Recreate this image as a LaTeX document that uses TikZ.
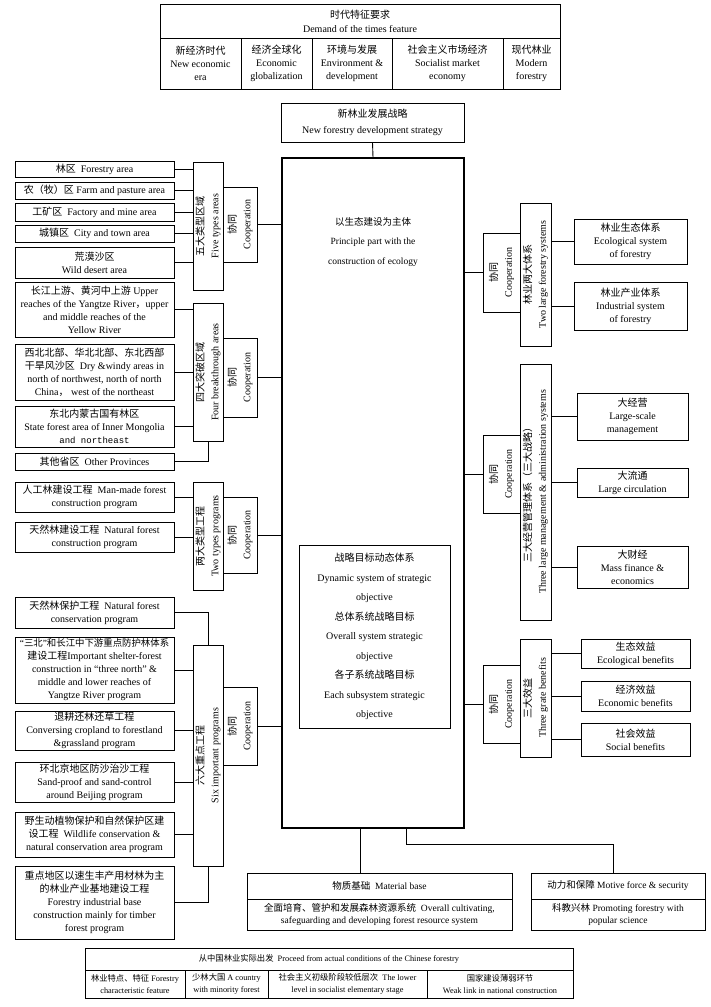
\documentclass[tikz,border=0pt]{standalone}
\usepackage{fontspec}
\setmainfont{Liberation Serif}
\newfontfamily\cjk{Noto Sans CJK SC}
\newfontfamily\monofam{Liberation Mono}
\newcommand\zh[1]{{\cjk #1}}
\usetikzlibrary{fit}
% box frame + centred text node: [text style]{name}{x1}{y1}{x2}{y2}{text}
\newcommand\bx[7][]{%
  \node[frame, fit={(#3,#4)(#5,#6)}] (#2) {};
  \node[txt,#1] (#2-t) at (#2.center) {#7};}
\begin{document}
\begin{tikzpicture}[x=1pt,y=-1pt,
  frame/.style={draw, line width=0.9pt, inner sep=0pt},
  txt/.style={align=center, inner sep=0pt, font=\fontsize{10}{13}\selectfont},
  vtxt/.style={rotate=90, font=\fontsize{10}{14.5}\selectfont},
  small/.style={font=\fontsize{8.3}{12.5}\selectfont},
  mid/.style={font=\fontsize{9.5}{12.5}\selectfont},
  link/.style={line width=0.9pt}]
\useasboundingbox (0,0) rectangle (710,1007);

% ---------- top table
\bx[font=\fontsize{10}{14}\selectfont]{top}{160}{4}{560}{38}{\zh{时代特征要求}\\Demand of the times feature}
\bx{t1}{160}{38}{241}{89}{\zh{新经济时代}\\New economic\\era}
\bx{t2}{241}{38}{312}{89}{\zh{经济全球化}\\Economic\\globalization}
\bx{t3}{312}{38}{392}{89}{\zh{环境与发展}\\Environment \&\\development}
\bx{t4}{392}{38}{503}{89}{\zh{社会主义市场经济}\\Socialist market\\economy}
\bx{t5}{503}{38}{560}{89}{\zh{现代林业}\\Modern\\forestry}

% ---------- strategy
\bx[font=\fontsize{10}{16}\selectfont]{strat}{281}{103}{464}{142}{\zh{新林业发展战略}\\New forestry development strategy}

% ---------- main box
\node[draw, line width=1.6pt, inner sep=0pt, fit={(282,158)(464,828)}] (main) {};
\node[txt, font=\fontsize{9.5}{19.5}\selectfont] (mtxt) at (373,242) {\zh{以生态建设为主体}\\Principle part with the\\construction of ecology};
\node[draw, line width=0.8pt, inner sep=0pt, fit={(299,545)(450,728)}] (inner) {};
\node[txt, font=\fontsize{10}{19.5}\selectfont] (inner-t) at (inner.center)
 {\zh{战略目标动态体系}\\Dynamic system of strategic\\objective\\\zh{总体系统战略目标}\\Overall system strategic\\objective\\\zh{各子系统战略目标}\\Each subsystem strategic\\objective};

% ---------- left boxes
\bx{lq}{15}{161}{174}{177}{\zh{林区}\ \ Forestry area}
\bx{nm}{15}{182}{174}{199}{\zh{农（牧）区} Farm and pasture area}
\bx{gk}{15}{203}{174}{221}{\zh{工矿区}\ \ Factory and mine area}
\bx{cz}{15}{225}{174}{242}{\zh{城镇区}\ \ City and town area}
\bx{hm}{15}{247}{174}{278}{\zh{荒漠沙区}\\Wild desert area}
\bx{cj}{15}{282}{174}{337}{\zh{长江上游、黄河中上游} Upper\\reaches of the Yangtze River\zh{，}upper\\and middle reaches of the\\Yellow River}
\bx{xb}{15}{344}{174}{400}{\zh{西北北部、华北北部、东北西部}\\\zh{干旱风沙区}\ \ Dry \&windy areas in\\north of northwest, north of north\\China\zh{，} west of the northeast}
\bx{db}{15}{406}{174}{447}{\zh{东北内蒙古国有林区}\\State forest area of Inner Mongolia\\{\monofam\fontsize{9}{13}\selectfont and northeast}}
\bx{qt}{15}{453}{174}{470}{\zh{其他省区}\ \ Other Provinces}
\bx{rg}{15}{482}{174}{512}{\zh{人工林建设工程}\ \ Man-made forest\\construction program}
\bx{tj}{15}{522}{174}{552}{\zh{天然林建设工程}\ \ Natural forest\\construction program}
\bx{tb}{15}{597}{174}{628}{\zh{天然林保护工程}\ \ Natural forest\\conservation program}
\bx{sb}{15}{637}{174}{703}{{\fontsize{9.4}{13}\selectfont “\zh{三北}”\zh{和长江中下游重点防护林体系}}\\\zh{建设工程}Important shelter-forest\\construction in “three north” \&\\middle and lower reaches of\\Yangtze River program}
\bx{tg}{15}{711}{174}{750}{\zh{退耕还林还草工程}\\Conversing cropland to forestland\\\&grassland program}
\bx{hb}{15}{762}{174}{802}{\zh{环北京地区防沙治沙工程}\\Sand-proof and sand-control\\around Beijing program}
\bx{ys}{15}{812}{174}{857}{\zh{野生动植物保护和自然保护区建}\\\zh{设工程}\ \ Wildlife conservation \&\\natural conservation area program}
\bx{zd}{15}{866}{174}{939}{\zh{重点地区以速生丰产用材林为主}\\\zh{的林业产业基地建设工程}\\Forestry industrial base\\construction mainly for timber\\forest program}

% ---------- left vertical boxes
\bx[vtxt]{five}{193}{162}{223}{290}{\zh{五大类型区域}\\Five types areas}
\bx[vtxt]{four}{193}{303}{223}{441}{\zh{四大突破区域}\\Four breakthrough areas}
\bx[vtxt]{two}{193}{482}{223}{590}{\zh{两大类型工程}\\Two types programs}
\bx[vtxt]{six}{193}{645}{223}{866}{\zh{六大重点工程}\\Six important programs}
\bx[vtxt]{c1}{223}{187}{257}{262}{\zh{协同}\\Cooperation}
\bx[vtxt]{c2}{223}{338}{257}{417}{\zh{协同}\\Cooperation}
\bx[vtxt]{c3}{223}{497}{257}{573}{\zh{协同}\\Cooperation}
\bx[vtxt]{c4}{223}{687}{257}{765}{\zh{协同}\\Cooperation}

% ---------- right side
\bx[vtxt]{r1}{483}{233}{520}{312}{\zh{协同}\\Cooperation}
\bx[vtxt]{r2}{483}{435}{520}{513}{\zh{协同}\\Cooperation}
\bx[vtxt]{r3}{483}{665}{520}{743}{\zh{协同}\\Cooperation}
\bx[vtxt]{s1}{520}{203}{551}{346}{\zh{林业两大体系}\\Two large forestry systems}
\bx[vtxt]{s2}{520}{364}{551}{620}{\zh{三大经营管理体系（三大战略）}\\Three large management \& administration systems}
\bx[vtxt]{s3}{520}{639}{551}{757}{\zh{三大效益}\\Three grate benefits}

\bx{e1}{574}{219}{687}{264}{\zh{林业生态体系}\\Ecological system\\of forestry}
\bx{e2}{574}{282}{687}{330}{\zh{林业产业体系}\\Industrial system\\of forestry}
\bx{m1}{577}{393}{688}{440}{\zh{大经营}\\Large-scale\\management}
\bx{m2}{577}{468}{688}{497}{\zh{大流通}\\Large circulation}
\bx{m3}{577}{546}{688}{588}{\zh{大财经}\\Mass finance \&\\economics}
\bx{f1}{581}{639}{690}{668}{\zh{生态效益}\\Ecological benefits}
\bx{f2}{581}{681}{690}{711}{\zh{经济效益}\\Economic benefits}
\bx{f3}{581}{723}{690}{756}{\zh{社会效益}\\Social benefits}

% ---------- bottom boxes
\bx[mid]{mat}{247}{873}{512}{899}{\zh{物质基础}\ \ Material base}
\bx[mid]{matb}{247}{899}{512}{930}{\zh{全面培育、管护和发展森林资源系统}\ \ Overall cultivating,\\safeguarding and developing forest resource system}
\bx[mid]{mot}{531}{873}{705}{899}{\zh{动力和保障} Motive force \& security}
\bx[mid]{motb}{531}{899}{705}{930}{\zh{科教兴林} Promoting forestry with\\popular science}

% ---------- bottom table
\bx[small]{bot}{85}{948}{573}{970}{\zh{从中国林业实际出发}\ \ Proceed from actual conditions of the Chinese forestry}
\bx[small]{b1}{85}{970}{185}{998}{\zh{林业特点、特征}\ Forestry\\characteristic feature}
\bx[small]{b2}{185}{970}{268}{998}{\zh{少林大国} A country\\with minority forest}
\bx[small]{b3}{268}{970}{427}{998}{\zh{社会主义初级阶段较低层次}\ \ The lower\\level in socialist elementary stage}
\bx[small]{b4}{427}{970}{573}{998}{\zh{国家建设薄弱环节}\\Weak link in national construction}

% ---------- connectors
\draw[link] (strat.south) -- (main.north);
\foreach \n in {lq,nm,gk,cz,hm} \draw[link] (\n.east) -- (\n.east -| five.west);
\foreach \n in {cj,xb,db} \draw[link] (\n.east) -- (\n.east -| four.west);
\draw[link] (qt.east) -| (four.south);
\foreach \n in {rg,tj} \draw[link] (\n.east) -- (\n.east -| two.west);
\draw[link] (tb.east) -| (six.north);
\foreach \n in {sb,tg,hb,ys} \draw[link] (\n.east) -- (\n.east -| six.west);
\draw[link] (zd.east) -| (six.south);
\foreach \n in {c1,c2,c3,c4} \draw[link] (\n.east) -- (\n.east -| main.west);
\foreach \n in {r1,r2,r3} \draw[link] (\n.west) -- (\n.west -| main.east);
\foreach \n in {e1,e2} \draw[link] (s1.east |- \n.west) -- (\n.west);
\foreach \n in {m1,m2,m3} \draw[link] (s2.east |- \n.west) -- (\n.west);
\foreach \n in {f1,f2,f3} \draw[link] (s3.east |- \n.west) -- (\n.west);
\draw[link] ([xshift=-13pt]main.south) -- ([xshift=-13pt]main.south |- mat.north);
\draw[link] ([xshift=33pt]main.south) -- ++(0,16) -| ([xshift=-5pt]mot.north);
\end{tikzpicture}
\end{document}
